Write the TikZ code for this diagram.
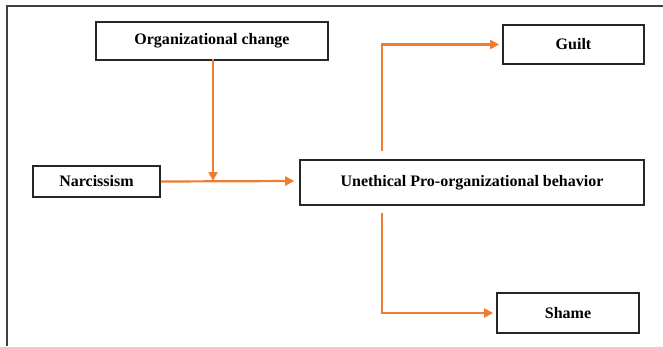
\documentclass[tikz,border=0pt]{standalone}
\usepackage{fontspec}
\setmainfont{Liberation Serif}
\usetikzlibrary{arrows.meta}
\definecolor{linkorange}{RGB}{237,125,49}
\definecolor{framegray}{RGB}{64,64,64}
\tikzset{
  box/.style={draw=black!85, line width=1.7pt, inner sep=0pt, font=\fontsize{16}{19}\selectfont\bfseries},
  link/.style={draw=linkorange, line width=2.2pt, -{Triangle[length=9pt,width=9pt]}}
}
\begin{document}
\begin{tikzpicture}[x=1pt,y=-1pt]
    \useasboundingbox (0,0) rectangle (663,346);
    \draw[framegray, line width=2.4pt] (7,346) -- (7,6) -- (663,6);

    \node[box, minimum width=232pt, minimum height=38pt] (orgchange) at (212,41) {Organizational change};
    \node[box, minimum width=141pt, minimum height=39pt] (guilt) at (573.5,44.5) {Guilt};
    \node[box, minimum width=127pt, minimum height=31pt] (narc) at (96.5,181.5) {Narcissism};
    \node[box, minimum width=344pt, minimum height=45pt] (upb) at (472,182.5) {Unethical Pro-organizational behavior};
    \node[box, minimum width=142pt, minimum height=40pt] (shame) at (568,313) {Shame};

    \coordinate (mod) at (213,181);
    \coordinate (up) at (382,151);
    \coordinate (down) at (382,213);

    \draw[link, shorten >=5pt] (narc.east) -- (upb.west |- mod);
    \draw[link] ([yshift=2pt]orgchange.south -| mod) -- (mod);
    \draw[link, shorten >=3pt] (up) |- (guilt.west);
    \draw[link, shorten >=3pt] (down) |- (shame.west);
\end{tikzpicture}
\end{document}
